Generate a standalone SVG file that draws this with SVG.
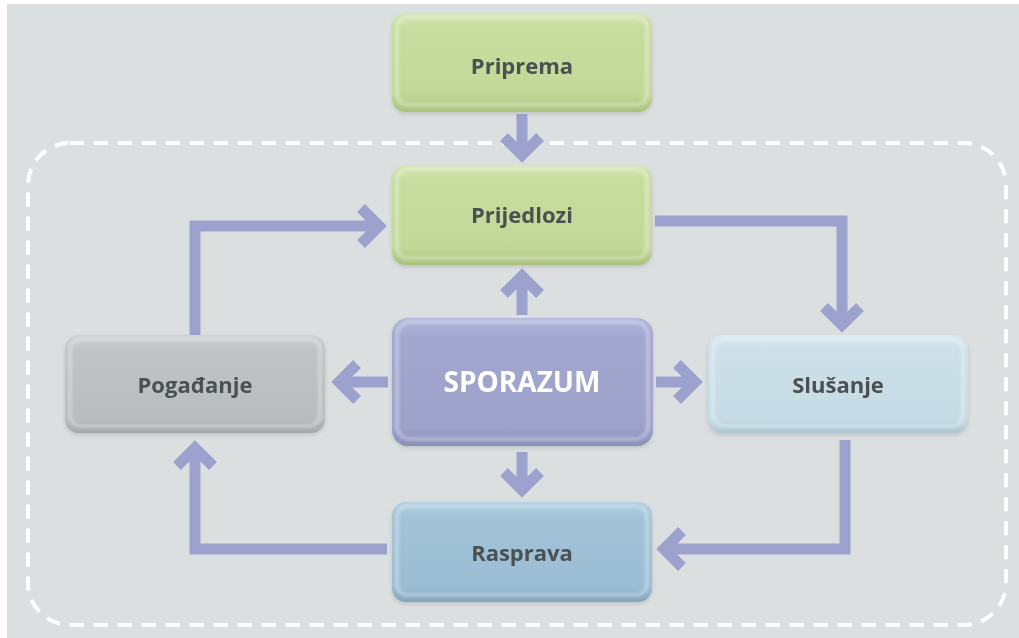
<svg xmlns="http://www.w3.org/2000/svg" width="1019" height="638" viewBox="0 0 1019 638">
  <style>
    .lbl { font-family: "Open Sans", "Liberation Sans", sans-serif; font-weight: bold; font-size: 22px; fill: #4b5152; text-anchor: middle; dominant-baseline: central; }
    .main { font-size: 28px; fill: #ffffff; }
    .conn { fill: none; stroke: #9da1cd; stroke-width: 11; stroke-linejoin: miter; marker-end: url(#head); }
    .hl { fill: none; stroke: #ffffff; stroke-opacity: 0.3; stroke-width: 4; filter: url(#blur); }
  </style>
  <defs>
    <marker id="head" markerUnits="userSpaceOnUse" viewBox="-30 -30 50 60" markerWidth="50" markerHeight="60" refX="0" refY="0" orient="auto" overflow="visible">
      <path d="M-16,-18 L2,0 L-16,18" fill="none" stroke="#9da1cd" stroke-width="11" stroke-linejoin="miter" stroke-miterlimit="10"/>
    </marker>
    <filter id="sh" x="-10%" y="-10%" width="120%" height="130%">
      <feDropShadow dx="0" dy="2" stdDeviation="2" flood-color="#7a8080" flood-opacity="0.3"/>
    </filter>
    <filter id="blur" x="-5%" y="-5%" width="110%" height="110%">
      <feGaussianBlur stdDeviation="1.5"/>
    </filter>
    <linearGradient id="gGreen" x1="0" y1="0" x2="0" y2="1">
      <stop offset="0" stop-color="#d6e5b2"/>
      <stop offset="0.15" stop-color="#c9dc9f"/>
      <stop offset="0.82" stop-color="#c3d898"/>
      <stop offset="1" stop-color="#a9c17c"/>
    </linearGradient>
    <linearGradient id="gPurple" x1="0" y1="0" x2="0" y2="1">
      <stop offset="0" stop-color="#b2b5da"/>
      <stop offset="0.15" stop-color="#a3a7cf"/>
      <stop offset="0.85" stop-color="#9ea2cb"/>
      <stop offset="1" stop-color="#8a8eb9"/>
    </linearGradient>
    <linearGradient id="gGray" x1="0" y1="0" x2="0" y2="1">
      <stop offset="0" stop-color="#cdd1d2"/>
      <stop offset="0.15" stop-color="#c0c4c5"/>
      <stop offset="0.85" stop-color="#b8bcbd"/>
      <stop offset="1" stop-color="#a3a8a9"/>
    </linearGradient>
    <linearGradient id="gLight" x1="0" y1="0" x2="0" y2="1">
      <stop offset="0" stop-color="#d9e8ef"/>
      <stop offset="0.15" stop-color="#cde0e9"/>
      <stop offset="0.85" stop-color="#c6dbe5"/>
      <stop offset="1" stop-color="#aec6d2"/>
    </linearGradient>
    <linearGradient id="gBlue" x1="0" y1="0" x2="0" y2="1">
      <stop offset="0" stop-color="#b0cde0"/>
      <stop offset="0.15" stop-color="#a2c3d8"/>
      <stop offset="0.85" stop-color="#9bbdd3"/>
      <stop offset="1" stop-color="#82a5bd"/>
    </linearGradient>
  </defs>

  <rect x="0" y="0" width="1019" height="638" fill="#ffffff"/>
  <rect x="7" y="4" width="1012" height="634" fill="#dcdfe0"/>

  <rect id="frame" x="28" y="143" width="978" height="482" rx="42" ry="42" fill="none" stroke="#ffffff" stroke-width="4" stroke-dasharray="14 10"/>

  <g id="connectors">
    <path class="conn" d="M522,114 V153"/>
    <path class="conn" d="M522,315 V278"/>
    <path class="conn" d="M388,382 H341"/>
    <path class="conn" d="M656,382 H693"/>
    <path class="conn" d="M522,452 V488"/>
    <path class="conn" d="M655,221 H842 V323"/>
    <path class="conn" d="M195,335 V226 H377"/>
    <path class="conn" d="M845,440 V549 H666"/>
    <path class="conn" d="M387,549 H195 V450"/>
  </g>

  <g id="priprema" filter="url(#sh)">
    <rect x="392" y="13" width="260" height="99" rx="14" fill="url(#gGreen)"/>
    <rect x="397" y="17" width="250" height="88" rx="11" class="hl"/>
    <text class="lbl" x="522" y="65">Priprema</text>
  </g>
  <g id="prijedlozi" filter="url(#sh)">
    <rect x="392" y="165" width="260" height="100" rx="14" fill="url(#gGreen)"/>
    <rect x="397" y="169" width="250" height="89" rx="11" class="hl"/>
    <text class="lbl" x="522" y="214">Prijedlozi</text>
  </g>
  <g id="sporazum" filter="url(#sh)">
    <rect x="392" y="318" width="261" height="128" rx="16" fill="url(#gPurple)"/>
    <rect x="397" y="322" width="251" height="117" rx="13" class="hl"/>
    <text class="lbl main" x="522" y="381">SPORAZUM</text>
  </g>
  <g id="pogadanje" filter="url(#sh)">
    <rect x="65" y="335" width="260" height="98" rx="14" fill="url(#gGray)"/>
    <rect x="70" y="339" width="250" height="87" rx="11" class="hl"/>
    <text class="lbl" x="195" y="384">Pogađanje</text>
  </g>
  <g id="slusanje" filter="url(#sh)">
    <rect x="708" y="335" width="260" height="98" rx="14" fill="url(#gLight)"/>
    <rect x="713" y="339" width="250" height="87" rx="11" class="hl"/>
    <text class="lbl" x="838" y="384">Slušanje</text>
  </g>
  <g id="rasprava" filter="url(#sh)">
    <rect x="392" y="502" width="260" height="100" rx="14" fill="url(#gBlue)"/>
    <rect x="397" y="506" width="250" height="89" rx="11" class="hl"/>
    <text class="lbl" x="522" y="552">Rasprava</text>
  </g>
</svg>
